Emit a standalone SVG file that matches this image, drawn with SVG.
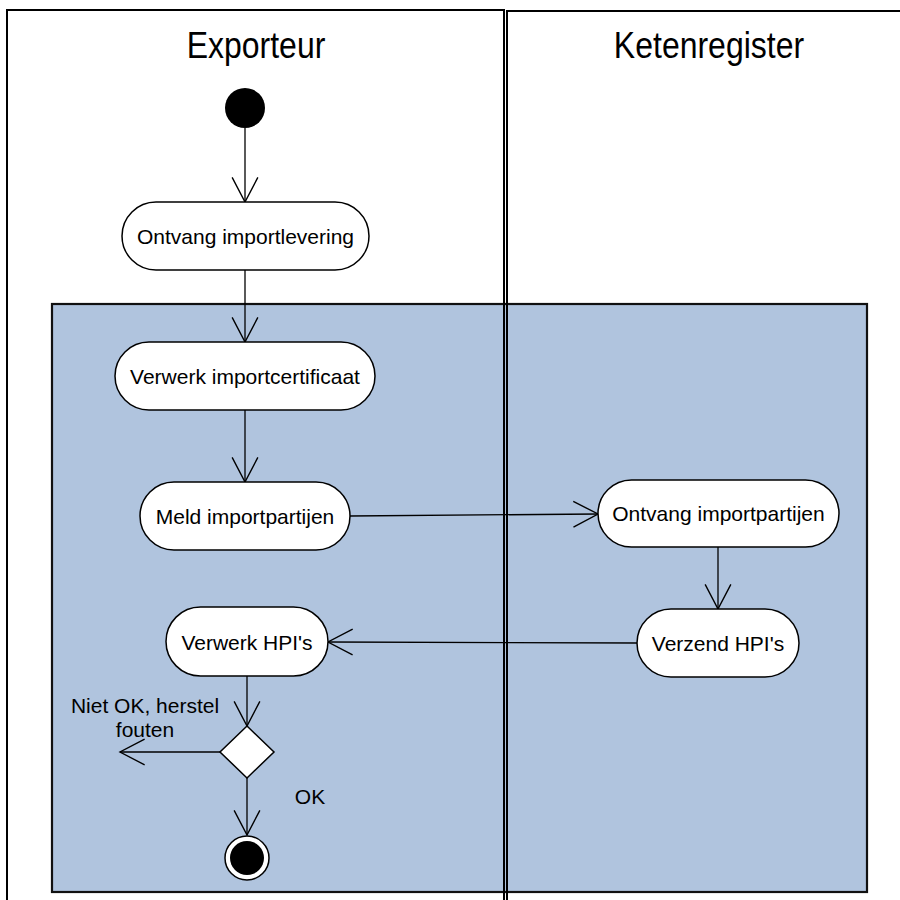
<svg xmlns="http://www.w3.org/2000/svg" width="900" height="900" viewBox="0 0 900 900">
<defs>
<style>
.lane{fill:none;stroke:#000;stroke-width:2}
.node{fill:#fff;stroke:#000;stroke-width:1.5}
.t{font-family:"Liberation Sans",Arial,sans-serif;font-size:21px;fill:#000;text-anchor:middle}
.h{font-family:"Liberation Sans",Arial,sans-serif;font-size:32px;fill:#000;text-anchor:middle}
.c{fill:none;stroke:#000;stroke-width:1.3}
</style>
<marker id="arr" markerUnits="userSpaceOnUse" markerWidth="30" markerHeight="30" viewBox="-25 -14 27 28" refX="0" refY="0" orient="auto">
<path d="M-23,-12 L0,0 L-23,12" fill="none" stroke="#000" stroke-width="1.3"/>
</marker>
</defs>
<rect x="0" y="0" width="900" height="900" fill="#fff"/>
<g id="activity-region">
<rect x="52" y="304" width="815" height="588" fill="#B0C4DE" stroke="#111" stroke-width="2.2"/>
</g>
<g id="lane-exporteur">
<path class="lane" d="M7,902 V10 H504 V902"/>
<text class="h" x="256" y="57" transform="translate(0,-9.5) scale(1,1.18)">Exporteur</text>
</g>
<g id="lane-ketenregister">
<path class="lane" d="M507,902 V11 H912"/>
<text class="h" x="709" y="57" transform="translate(0,-9.5) scale(1,1.18)">Ketenregister</text>
</g>
<g id="connectors">
<line class="c" x1="245" y1="128" x2="245" y2="202" marker-end="url(#arr)"/>
<line class="c" x1="245" y1="270" x2="245" y2="342" marker-end="url(#arr)"/>
<line class="c" x1="245" y1="410" x2="245" y2="482" marker-end="url(#arr)"/>
<line class="c" x1="350" y1="516" x2="598" y2="514" marker-end="url(#arr)"/>
<line class="c" x1="718" y1="547" x2="718" y2="609" marker-end="url(#arr)"/>
<line class="c" x1="637" y1="643" x2="328" y2="642" marker-end="url(#arr)"/>
<line class="c" x1="247" y1="676" x2="247" y2="726" marker-end="url(#arr)"/>
<line class="c" x1="220" y1="752" x2="120" y2="752" marker-end="url(#arr)"/>
<line class="c" x1="247" y1="778" x2="247" y2="835" marker-end="url(#arr)"/>
<text class="t" x="145" y="713">Niet OK, herstel</text>
<text class="t" x="145" y="737">fouten</text>
<text class="t" x="310" y="804">OK</text>
</g>
<g id="start">
<circle cx="245" cy="108" r="20" fill="#000"/>
</g>
<g id="ontvang-importlevering">
<rect class="node" x="122" y="202" width="247" height="68" rx="34"/>
<text class="t" x="245.5" y="243.5">Ontvang importlevering</text>
</g>
<g id="verwerk-importcertificaat">
<rect class="node" x="115" y="342" width="260" height="68" rx="34"/>
<text class="t" x="245" y="383.5">Verwerk importcertificaat</text>
</g>
<g id="meld-importpartijen">
<rect class="node" x="140" y="482" width="210" height="68" rx="34"/>
<text class="t" x="245" y="523.5">Meld importpartijen</text>
</g>
<g id="ontvang-importpartijen">
<rect class="node" x="598" y="480" width="241" height="67" rx="33.5"/>
<text class="t" x="718.5" y="521">Ontvang importpartijen</text>
</g>
<g id="verzend-hpis">
<rect class="node" x="637" y="609" width="162" height="68" rx="34"/>
<text class="t" x="718" y="650.5">Verzend HPI's</text>
</g>
<g id="verwerk-hpis">
<rect class="node" x="166" y="607" width="162" height="69" rx="34.5"/>
<text class="t" x="247" y="649.5">Verwerk HPI's</text>
</g>
<g id="decision">
<polygon points="247,726 274,752 247,778 220,752" fill="#fff" stroke="#000" stroke-width="1.5"/>
</g>
<g id="end">
<circle cx="247" cy="858" r="22" fill="#fff" stroke="#000" stroke-width="1.5"/>
<circle cx="247" cy="858" r="17" fill="#000"/>
</g>
</svg>
